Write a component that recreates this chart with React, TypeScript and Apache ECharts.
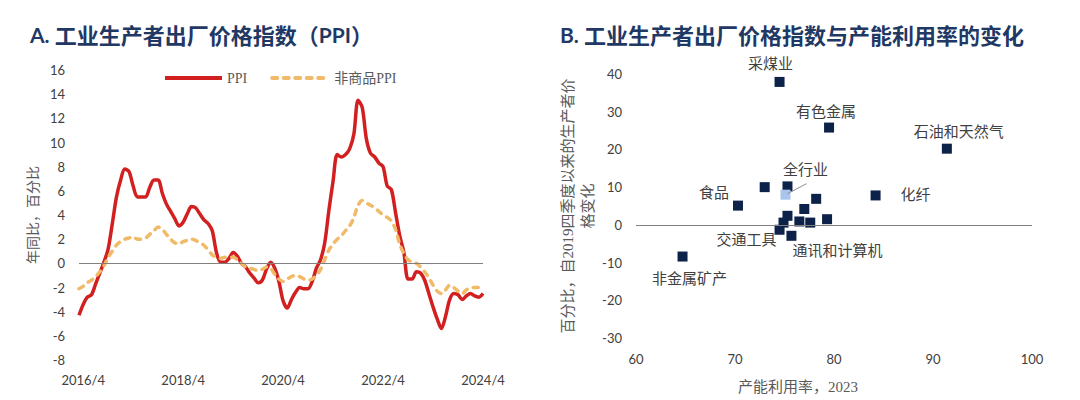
import React, { useEffect, useRef } from "react";
import * as echarts from "echarts";

// ---------- Panel A data: monthly YoY, 2016/3 .. 2024/4 ----------
const START_YEAR = 2016;
const START_MONTH = 3;
const ppi = [
  -4.3, -3.4, -2.8, -2.6, -1.7, -0.8, 0.1, 1.2, 3.3, 5.5,
  6.9, 7.8, 7.6, 6.4, 5.5, 5.5, 5.5, 6.3, 6.9, 6.9, 5.8, 4.9,
  4.3, 3.7, 3.1, 3.4, 4.1, 4.7, 4.6, 4.1, 3.6, 3.3, 2.7, 0.9,
  0.1, 0.1, 0.4, 0.9, 0.6, 0.0, -0.3, -0.8, -1.2, -1.6, -1.4, -0.5,
  0.1, -0.4, -1.5, -3.1, -3.7, -3.0, -2.4, -2.0, -2.1, -2.1, -1.5, -0.4,
  0.3, 1.7, 4.4, 6.8, 9.0, 8.8, 9.0, 9.5, 10.7, 13.5, 12.9, 10.3,
  9.1, 8.8, 8.3, 8.0, 6.4, 6.1, 4.2, 2.3, 0.9, -1.3, -1.3, -0.7,
  -0.8, -1.4, -2.5, -3.6, -4.6, -5.4, -4.4, -3.0, -2.5, -2.6, -3.0, -2.7,
  -2.5, -2.7, -2.8, -2.5,
];
const nonCommodityPpi = [
  -2.1, -1.9, -1.6, -1.4, -1.1, -0.7, -0.2, 0.5, 1.0, 1.5,
  1.8, 2.0, 2.1, 2.2, 2.0, 2.0, 2.1, 2.4, 2.7, 3.0, 2.8, 2.4,
  2.0, 1.7, 1.6, 1.8, 1.9, 2.0, 1.9, 1.7, 1.5, 1.1, 0.7, 0.5,
  0.4, 0.5, 0.5, 0.5, 0.3, 0.0, -0.3, -0.4, -0.5, -0.6, -0.5, -0.3,
  -0.4, -0.9, -1.3, -1.5, -1.3, -1.1, -1.0, -1.1, -1.3, -1.4, -1.3, -1.0,
  -0.5, 0.3, 1.1, 1.6, 2.0, 2.3, 2.7, 3.1, 3.8, 4.8, 5.2, 5.0,
  4.8, 4.6, 4.3, 4.0, 3.8, 3.5, 2.8, 1.6, 0.8, 0.3, 0.1, 0.0,
  -0.3, -0.7, -1.2, -1.8, -2.3, -2.5, -2.2, -1.8, -2.0, -2.3, -2.5, -2.2,
  -2.0, -2.0, -2.0, -1.9,
];
const months = ppi.map((_, i) => {
  const m = START_MONTH - 1 + i;
  return `${START_YEAR + Math.floor(m / 12)}/${(m % 12) + 1}`;
});
const seriesNames = ["PPI", "非商品PPI"];

// ---------- Panel B data ----------
const industries = [
  "采煤业", "有色金属", "石油和天然气", "食品", "", "", "全行业", "", "", "",
  "", "", "", "", "交通工具", "通讯和计算机", "化纤", "非金属矿产",
];
const capacityUtilization = [
  74.5, 79.5, 91.4, 70.3, 73.0, 75.3, 75.1, 78.2, 77.0, 75.3,
  74.9, 76.5, 77.6, 79.3, 74.5, 75.7, 84.2, 64.7,
];
const priceChange = [
  37.9, 25.8, 20.2, 5.1, 10.0, 10.2, 8.0, 6.9, 4.2, 2.4,
  0.6, 0.9, 0.6, 1.5, -1.3, -2.9, 7.8, -8.4,
];
const TOTAL_NAME = "全行业";

// label offsets (px, label centre relative to point)
const labelOffsets: Record<string, [number, number]> = {
  "采煤业": [-9, -18],
  "有色金属": [-3, -16],
  "石油和天然气": [12, -17],
  "食品": [-24, -13],
  "全行业": [20, -25],
  "交通工具": [-33, 10],
  "通讯和计算机": [46, 15],
  "化纤": [40, 0],
  "非金属矿产": [7, 22],
};

const NAVY = "#1f3864";
const RED = "#d21f1f";
const ORANGE = "#f0ba68";
const NUM_FONT = "Lato, 'Open Sans', sans-serif";
const CJK_FONT = "'Liberation Serif', 'Noto Sans CJK SC', serif";

export default function App() {
  const ref = useRef<HTMLDivElement>(null);
  useEffect(() => {
    if (!ref.current) return;
    const chart = echarts.init(ref.current, undefined, { renderer: "svg" });
    const scatterData = industries.map((name, i) => {
      const off = labelOffsets[name];
      return {
        name,
        value: [capacityUtilization[i], priceChange[i]],
        itemStyle: name === TOTAL_NAME ? { color: "#a9c5ec" } : undefined,
        label: off
          ? { show: true, formatter: name, position: "inside", offset: off }
          : { show: false },
      };
    });
    const titleRich = {
      a: { fontFamily: NUM_FONT, fontWeight: "bold", fontSize: 21, color: NAVY },
      b: { fontFamily: "'Noto Sans CJK SC', sans-serif", fontSize: 22, color: NAVY },
    };
    const option: any = {
      animation: false,
      backgroundColor: "#ffffff",
      title: [
        {
          left: 25,
          top: 18,
          text: "{a|A. }{b|工业生产者出厂价格指数（}{a|PPI}{b|）}",
          textStyle: { rich: titleRich },
        },
        {
          left: 555,
          top: 18,
          text: "{a|B. }{b|工业生产者出厂价格指数与产能利用率的变化}",
          textStyle: { rich: titleRich },
        },
      ],
      legend: {
        data: seriesNames,
        left: 158,
        top: 66,
        itemWidth: 57,
        itemHeight: 14,
        itemGap: 23,
        itemStyle: { opacity: 0 },
        lineStyle: { width: 4 },
        textStyle: { fontFamily: CJK_FONT, fontSize: 14, color: "#595959" },
      },
      grid: [
        { left: 79, right: 597, top: 70, bottom: 40 },
        { left: 636, right: 48, top: 74, bottom: 62 },
      ],
      xAxis: [
        {
          gridIndex: 0,
          type: "category",
          data: months,
          boundaryGap: false,
          axisLine: { show: false },
          axisTick: { show: false },
          splitLine: { show: false },
          axisLabel: {
            interval: (idx: number) => (idx - 1) % 24 === 0,
            margin: 13,
            fontSize: 13,
            color: "#404040",
            fontFamily: NUM_FONT,
          },
        },
        {
          gridIndex: 1,
          type: "value",
          min: 60,
          max: 100,
          interval: 10,
          axisLine: { show: false },
          axisTick: { show: false },
          splitLine: { show: false },
          axisLabel: { margin: 14, fontSize: 13, color: "#404040", fontFamily: NUM_FONT },
          name: "产能利用率，2023",
          nameLocation: "middle",
          nameGap: 41,
          nameTextStyle: {
            fontFamily: CJK_FONT,
            fontSize: 15,
            color: "#595959",
            padding: [0, 72, 0, 0],
          },
        },
      ],
      yAxis: [
        {
          gridIndex: 0,
          type: "value",
          min: -8,
          max: 16,
          interval: 2,
          axisLine: { show: false },
          axisTick: { show: false },
          splitLine: { show: false },
          axisLabel: { margin: 14, fontSize: 13, color: "#404040", fontFamily: NUM_FONT },
          name: "年同比，百分比",
          nameLocation: "middle",
          nameRotate: 90,
          nameGap: 39,
          nameTextStyle: { fontFamily: CJK_FONT, fontSize: 14, color: "#595959" },
        },
        {
          gridIndex: 1,
          type: "value",
          min: -30,
          max: 40,
          interval: 10,
          axisLine: { show: false },
          axisTick: { show: false },
          splitLine: { show: false },
          axisLabel: { margin: 14, fontSize: 13, color: "#404040", fontFamily: NUM_FONT },
          name: "百分比，自2019四季度以来的生产者价\n格变化",
          nameLocation: "middle",
          nameRotate: 90,
          nameGap: 38,
          nameTextStyle: {
            fontFamily: CJK_FONT,
            fontSize: 15,
            lineHeight: 20,
            color: "#595959",
            align: "center",
          },
        },
      ],
      series: [
        {
          type: "line",
          name: "zero-a",
          xAxisIndex: 0,
          yAxisIndex: 0,
          data: [],
          z: 1,
          silent: true,
          markLine: {
            silent: true,
            symbol: "none",
            label: { show: false },
            lineStyle: { color: "#808080", width: 1, type: "solid" },
            data: [{ yAxis: 0 }],
          },
        },
        {
          type: "line",
          name: seriesNames[0],
          xAxisIndex: 0,
          yAxisIndex: 0,
          data: ppi,
          symbol: "none",
          smooth: 0.3,
          z: 2,
          itemStyle: { color: RED },
          lineStyle: { color: RED, width: 3.5 },
        },
        {
          type: "line",
          name: seriesNames[1],
          xAxisIndex: 0,
          yAxisIndex: 0,
          data: nonCommodityPpi,
          symbol: "none",
          smooth: 0.3,
          z: 3,
          itemStyle: { color: ORANGE },
          lineStyle: { color: ORANGE, width: 3.5, type: [5, 6.5], cap: "round" },
        },
        {
          type: "line",
          name: "zero-b",
          xAxisIndex: 1,
          yAxisIndex: 1,
          data: [],
          z: 1,
          silent: true,
          markLine: {
            silent: true,
            symbol: "none",
            label: { show: false },
            lineStyle: { color: "#808080", width: 1, type: "solid" },
            data: [{ yAxis: 0 }],
          },
        },
        {
          type: "scatter",
          name: "industries",
          xAxisIndex: 1,
          yAxisIndex: 1,
          symbol: "rect",
          symbolSize: 10,
          z: 4,
          itemStyle: { color: "#0c2249", opacity: 1 },
          label: { fontFamily: CJK_FONT, fontSize: 15, color: "#404040" },
          data: scatterData,
        },
      ],
    };
    chart.setOption(option);
    const ti = industries.indexOf(TOTAL_NAME);
    const p = chart.convertToPixel({ gridIndex: 1 }, [capacityUtilization[ti], priceChange[ti]]) as number[];
    if (p) {
      chart.setOption({
        graphic: [
          {
            type: "line",
            shape: { x1: p[0] + 2, y1: p[1] - 1, x2: p[0] + 21, y2: p[1] - 11 },
            style: { stroke: "#8c8c8c", lineWidth: 1 },
            z: 10,
          },
        ],
      });
    }
    return () => chart.dispose();
  }, []);
  return (
    <div
      ref={ref}
      style={{ position: "fixed", left: 0, top: 0, width: 1080, height: 400, background: "#fff" }}
    />
  );
}
